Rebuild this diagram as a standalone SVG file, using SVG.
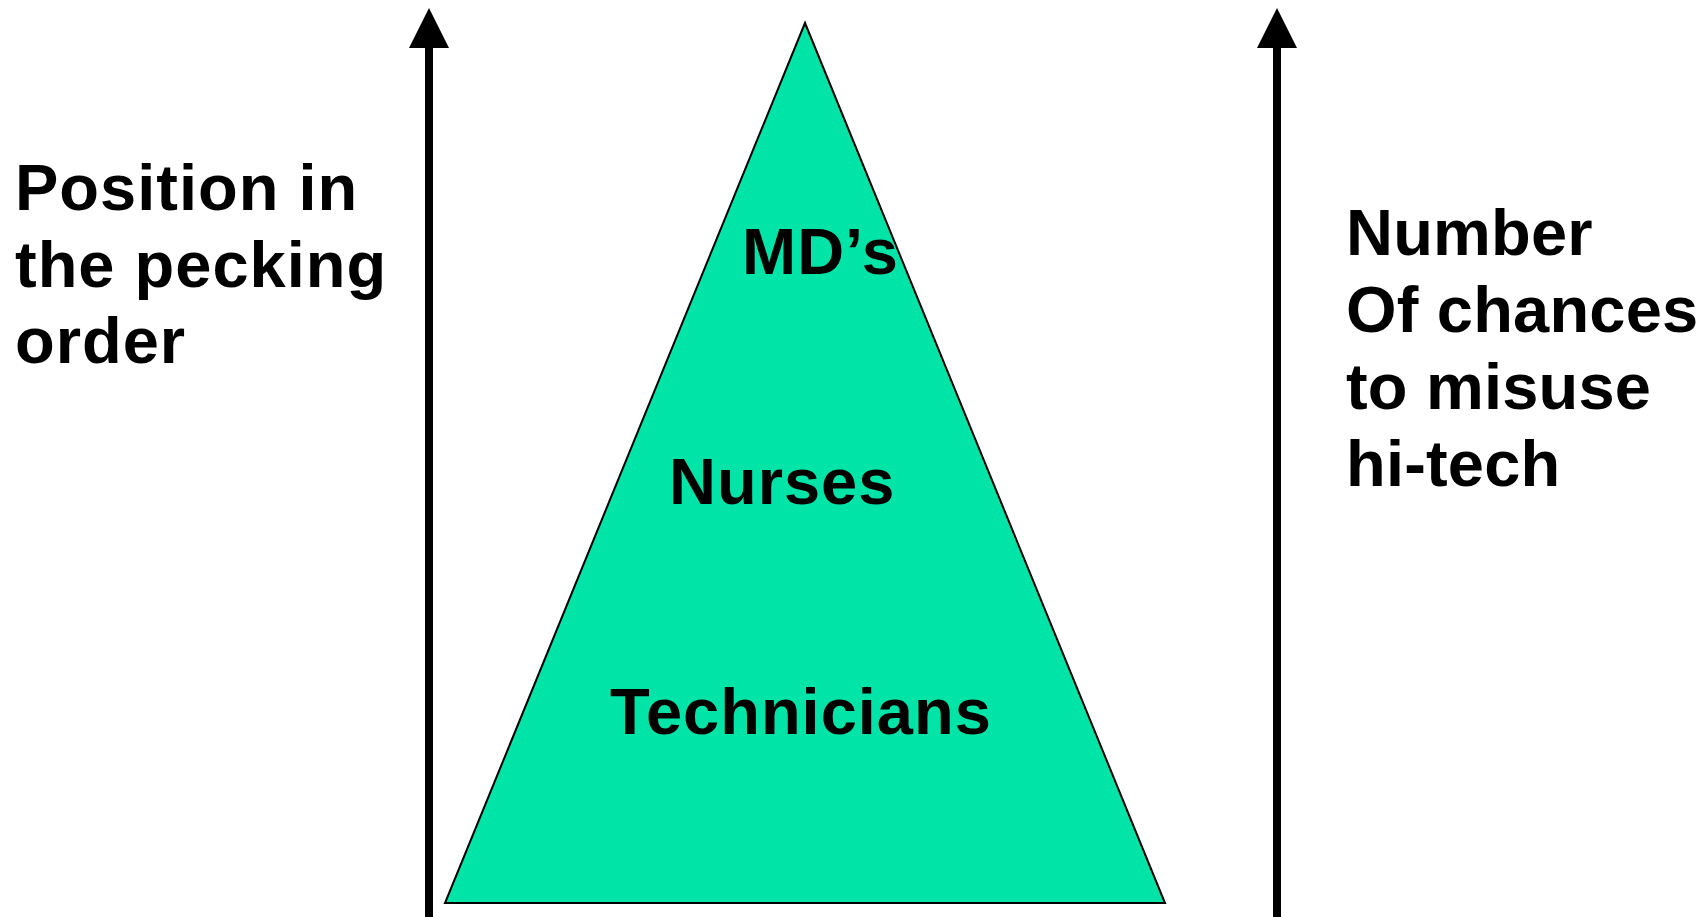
<svg xmlns="http://www.w3.org/2000/svg" width="1707" height="917" viewBox="0 0 1707 917">
<style>
.lbl{font-family:"Liberation Sans",Arial,sans-serif;font-weight:bold;font-size:65px;letter-spacing:1px;fill:#000}
#right-label .lbl{letter-spacing:0.2px}
.axis{stroke:#000;stroke-width:8;fill:none}
</style>
<rect width="1707" height="917" fill="#fff"/>
<g id="pyramid">
<polygon points="805,23 1165,903 445,903" fill="#00E4A8" stroke="#000" stroke-width="2"/>
<text class="lbl" x="742" y="274">MD’s</text>
<text class="lbl" x="669" y="504">Nurses</text>
<text class="lbl" x="610" y="734">Technicians</text>
</g>
<g id="left-label">
<text class="lbl" x="15" y="210">Position in</text>
<text class="lbl" x="15" y="287">the pecking</text>
<text class="lbl" x="15" y="363">order</text>
</g>
<g id="right-label">
<text class="lbl" x="1346" y="255">Number</text>
<text class="lbl" x="1346" y="332">Of chances</text>
<text class="lbl" x="1346" y="409">to misuse</text>
<text class="lbl" x="1346" y="486">hi-tech</text>
</g>
<g id="connectors">
<line class="axis" x1="429" y1="917" x2="429" y2="47"/>
<polygon points="429,8 409,48 449,48" fill="#000"/>
<line class="axis" x1="1277" y1="917" x2="1277" y2="47"/>
<polygon points="1277,8 1257,48 1297,48" fill="#000"/>
</g>
</svg>
